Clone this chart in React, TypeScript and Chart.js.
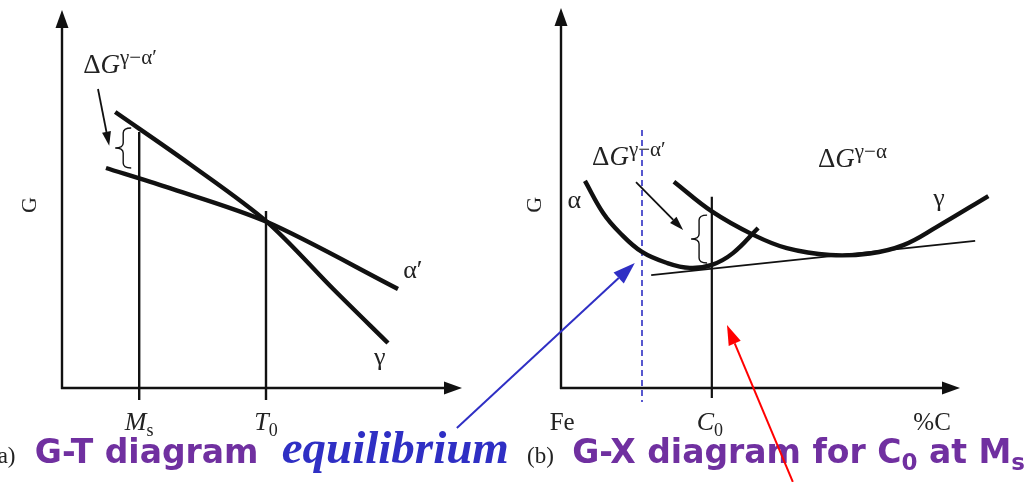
import { useEffect, useRef } from "react";
import { Chart, registerables } from "chart.js";

Chart.register(...registerables);

const CANVAS_W = 1029;
const CANVAS_H = 482;

// ---------- Panel (a): G–T diagram (arbitrary units, 0..10 on both axes) ----------
const gammaT = [1.33, 3.2, 5.13, 6.78, 8.15];
const gammaGT = [7.3, 5.92, 4.39, 2.62, 1.19];
const alphaPrimeT = [1.1, 2.6, 5.13, 8.4];
const alphaPrimeGT = [5.82, 5.32, 4.39, 2.62];
const msT = 1.93;
const t0T = 5.1;
const msLine = [6.77, -0.32];
const t0Line = [4.68, -0.32];

// ---------- Panel (b): G–X diagram for C0 at Ms ----------
const alphaX = [0.6, 1.06, 1.48, 2.03, 2.66, 3.23, 3.78, 4.31, 4.94];
const alphaGX = [5.45, 4.6, 4.08, 3.58, 3.29, 3.16, 3.24, 3.55, 4.21];
const gammaX = [2.83, 3.79, 4.82, 5.66, 6.74, 7.74, 8.58, 9.42, 10.71];
const gammaGX = [5.43, 4.64, 4.03, 3.68, 3.5, 3.54, 3.76, 4.24, 5.05];
const tangentX = [2.26, 10.38];
const tangentG = [2.97, 3.87];
const c0X = 3.78;
const c0Line = [5.03, -0.26];
const eqX = 2.03;
const eqLine = [6.79, -0.37];

const SERIF = '"Liberation Serif", "DejaVu Serif", serif';
const SANS = '"DejaVu Sans", "Noto Sans", sans-serif';
const PURPLE = "#7030a0";
const BLUE = "#2f2fc4";
const INK = "#222";

const pts = (xs: number[], ys: number[]) => xs.map((x, i) => ({ x, y: ys[i] }));

type Run = { t: string; font: string; dy?: number };

function drawRuns(ctx: CanvasRenderingContext2D, runs: Run[], x: number, y: number, color: string) {
  ctx.fillStyle = color;
  ctx.textAlign = "left";
  ctx.textBaseline = "alphabetic";
  let cx = x;
  for (const r of runs) {
    ctx.font = r.font;
    ctx.fillText(r.t, cx, y + (r.dy || 0));
    cx += ctx.measureText(r.t).width;
  }
}

function runsWidth(ctx: CanvasRenderingContext2D, runs: Run[]) {
  let w = 0;
  for (const r of runs) {
    ctx.font = r.font;
    w += ctx.measureText(r.t).width;
  }
  return w;
}

function arrow(
  ctx: CanvasRenderingContext2D,
  x0: number, y0: number, x1: number, y1: number,
  color: string, width: number, headLen: number, headHalf: number
) {
  const a = Math.atan2(y1 - y0, x1 - x0);
  const bx = x1 - headLen * Math.cos(a);
  const by = y1 - headLen * Math.sin(a);
  ctx.strokeStyle = color;
  ctx.lineWidth = width;
  ctx.lineCap = "butt";
  ctx.beginPath();
  ctx.moveTo(x0, y0);
  ctx.lineTo(bx, by);
  ctx.stroke();
  ctx.fillStyle = color;
  ctx.beginPath();
  ctx.moveTo(x1, y1);
  ctx.lineTo(bx - headHalf * Math.sin(a), by + headHalf * Math.cos(a));
  ctx.lineTo(bx + headHalf * Math.sin(a), by - headHalf * Math.cos(a));
  ctx.closePath();
  ctx.fill();
}

// Left-pointing curly brace between yTop and yBot (pixels), tip at xTip
function brace(ctx: CanvasRenderingContext2D, xTip: number, yTop: number, yBot: number, w: number) {
  const xm = xTip + w * 0.5;
  const xe = xTip + w;
  const ym = (yTop + yBot) / 2;
  const r = Math.min(5, (yBot - yTop) / 6);
  ctx.strokeStyle = "#111";
  ctx.lineWidth = 1.4;
  ctx.beginPath();
  ctx.moveTo(xe, yTop);
  ctx.quadraticCurveTo(xm, yTop, xm, yTop + r);
  ctx.lineTo(xm, ym - r);
  ctx.quadraticCurveTo(xm, ym, xTip, ym);
  ctx.quadraticCurveTo(xm, ym, xm, ym + r);
  ctx.lineTo(xm, yBot - r);
  ctx.quadraticCurveTo(xm, yBot, xe, yBot);
  ctx.stroke();
}

function axesWithArrows(chart: Chart) {
  const ctx = chart.ctx;
  const sx = chart.scales.x;
  const sy = chart.scales.y;
  const ox = sx.getPixelForValue(0);
  const oy = sy.getPixelForValue(0);
  const tx = sx.getPixelForValue(10);
  const ty = sy.getPixelForValue(10);
  arrow(ctx, ox, oy + 1, ox, ty, "#111", 2.4, 18, 6.5);
  arrow(ctx, ox - 1, oy, tx, oy, "#111", 2.4, 18, 6.5);
}

function rotatedTitle(ctx: CanvasRenderingContext2D, text: string, x: number, y: number) {
  ctx.save();
  ctx.translate(x, y);
  ctx.rotate(-Math.PI / 2);
  ctx.font = `22px ${SERIF}`;
  ctx.fillStyle = INK;
  ctx.textAlign = "center";
  ctx.textBaseline = "middle";
  ctx.fillText(text, 0, 0);
  ctx.restore();
}

function makeChart(
  canvas: HTMLCanvasElement,
  datasets: any[],
  padding: { left: number; right: number; top: number; bottom: number },
  drawText: (c: Chart) => void,
  drawMarks: (c: Chart) => void
) {
  return new Chart(canvas, {
    type: "line",
    data: { datasets },
    options: {
      animation: false,
      responsive: false,
      devicePixelRatio: 1,
      events: [],
      layout: { padding },
      plugins: { legend: { display: false }, tooltip: { enabled: false } },
      elements: { point: { radius: 0 } },
      scales: {
        x: { type: "linear", display: false, min: 0, max: 10 },
        y: { type: "linear", display: false, min: 0, max: 10 },
      },
    },
    plugins: [
      {
        id: "diagramText",
        beforeDatasetsDraw(c: Chart) {
          c.ctx.save();
          drawText(c);
          c.ctx.restore();
        },
      },
      {
        id: "diagramMarks",
        afterDatasetsDraw(c: Chart) {
          c.ctx.save();
          axesWithArrows(c);
          drawMarks(c);
          c.ctx.restore();
        },
      },
    ],
  });
}

const curve = (data: any[], width: number, tension = 0.4, color = "#111") => ({
  data,
  borderColor: color,
  borderWidth: width,
  tension,
  fill: false,
  clip: false,
  borderCapStyle: "butt",
});

const deltaLabel = (sup: string): Run[] => [
  { t: "Δ", font: `27px ${SERIF}` },
  { t: "G", font: `italic 27px ${SERIF}` },
  { t: sup, font: `21px ${SERIF}`, dy: -9 },
];

const CAPTION = `bold 33px ${SANS}`;
const CAPTION_SUB = `bold 23px ${SANS}`;

export default function App() {
  const leftRef = useRef<HTMLCanvasElement | null>(null);
  const rightRef = useRef<HTMLCanvasElement | null>(null);

  useEffect(() => {
    document.body.style.margin = "0";
    const left = leftRef.current!;
    const right = rightRef.current!;

    // ----- Panel (a) -----
    const leftChart = makeChart(
      left,
      [
        curve(pts(gammaT, gammaGT), 4.4, 0.3),
        curve(pts(alphaPrimeT, alphaPrimeGT), 4.4, 0.3),
        curve(pts([msT, msT], msLine), 2.4, 0),
        curve(pts([t0T, t0T], t0Line), 2.4, 0),
      ],
      { left: 62, right: CANVAS_W - 462, top: 10, bottom: CANVAS_H - 388 },
      (c) => {
        const ctx = c.ctx;
        const X = (v: number) => c.scales.x.getPixelForValue(v);
        const Y = (v: number) => c.scales.y.getPixelForValue(v);
        drawRuns(ctx, deltaLabel("γ−α′"), X(0.53), Y(8.33), INK);
        drawRuns(ctx, [{ t: "α′", font: `26px ${SERIF}` }], X(8.53), Y(2.91), INK);
        drawRuns(ctx, [{ t: "γ", font: `26px ${SERIF}` }], X(7.8), Y(0.6), INK);
        rotatedTitle(ctx, "G", X(-0.8), Y(4.84));
        const ms: Run[] = [
          { t: "M", font: `italic 26px ${SERIF}` },
          { t: "s", font: `18px ${SERIF}`, dy: 6 },
        ];
        drawRuns(ctx, ms, X(msT) - runsWidth(ctx, ms) / 2, Y(-1.11), INK);
        const t0: Run[] = [
          { t: "T", font: `italic 26px ${SERIF}` },
          { t: "0", font: `18px ${SERIF}`, dy: 6 },
        ];
        drawRuns(ctx, t0, X(t0T) - runsWidth(ctx, t0) / 2, Y(-1.11), INK);
        drawRuns(ctx, [{ t: "(a)", font: `23px ${SERIF}` }], X(-1.8), Y(-1.98), INK);
        drawRuns(ctx, [{ t: "G-T diagram", font: CAPTION }], X(-0.68), Y(-1.98), PURPLE);
      },
      (c) => {
        const ctx = c.ctx;
        const X = (v: number) => c.scales.x.getPixelForValue(v);
        const Y = (v: number) => c.scales.y.getPixelForValue(v);
        arrow(ctx, X(0.9), Y(7.91), X(1.18), Y(6.41), "#111", 1.8, 14, 4.5);
        brace(ctx, X(1.33), Y(6.88), Y(5.82), 16);
      }
    );

    // ----- Panel (b) -----
    const rightChart = makeChart(
      right,
      [
        curve(pts(alphaX, alphaGX), 4.4, 0.4),
        curve(pts(gammaX, gammaGX), 4.4, 0.4),
        curve(pts(tangentX, tangentG), 1.8, 0),
        curve(pts([c0X, c0X], c0Line), 2.2, 0),
        { ...curve(pts([eqX, eqX], eqLine), 1.6, 0, BLUE), borderDash: [6, 4] },
      ],
      { left: 561, right: CANVAS_W - 960, top: 8, bottom: CANVAS_H - 388 },
      (c) => {
        const ctx = c.ctx;
        const X = (v: number) => c.scales.x.getPixelForValue(v);
        const Y = (v: number) => c.scales.y.getPixelForValue(v);
        drawRuns(ctx, deltaLabel("γ−α′"), X(0.78), Y(5.87), INK);
        drawRuns(ctx, deltaLabel("γ−α"), X(6.44), Y(5.82), INK);
        drawRuns(ctx, [{ t: "α", font: `26px ${SERIF}` }], X(0.16), Y(4.74), INK);
        drawRuns(ctx, [{ t: "γ", font: `26px ${SERIF}` }], X(9.33), Y(4.8), INK);
        rotatedTitle(ctx, "G", X(-0.65), Y(4.82));
        const fe: Run[] = [{ t: "Fe", font: `25px ${SERIF}` }];
        drawRuns(ctx, fe, X(0.03) - runsWidth(ctx, fe) / 2, Y(-1.1), INK);
        const c0: Run[] = [
          { t: "C", font: `italic 26px ${SERIF}` },
          { t: "0", font: `18px ${SERIF}`, dy: 6 },
        ];
        drawRuns(ctx, c0, X(3.73) - runsWidth(ctx, c0) / 2, Y(-1.1), INK);
        const pc: Run[] = [{ t: "%C", font: `25px ${SERIF}` }];
        drawRuns(ctx, pc, X(9.3) - runsWidth(ctx, pc) / 2, Y(-1.1), INK);
        drawRuns(ctx, [{ t: "(b)", font: `23px ${SERIF}` }], X(-0.85), Y(-1.97), INK);
        drawRuns(ctx, [
          { t: "G-X diagram for C", font: CAPTION },
          { t: "0", font: CAPTION_SUB, dy: 7 },
          { t: " at M", font: CAPTION },
          { t: "s", font: CAPTION_SUB, dy: 7 },
        ], X(0.28), Y(-1.97), PURPLE);
        drawRuns(ctx, [{ t: "equilibrium", font: `italic bold 47px ${SERIF}` }], X(-7.0), Y(-1.97), BLUE);
      },
      (c) => {
        const ctx = c.ctx;
        const X = (v: number) => c.scales.x.getPixelForValue(v);
        const Y = (v: number) => c.scales.y.getPixelForValue(v);
        arrow(ctx, X(1.88), Y(5.42), X(3.06), Y(4.16), "#111", 1.8, 14, 4.5);
        brace(ctx, X(3.26), Y(4.55), Y(3.29), 16);
        arrow(ctx, X(-2.61), Y(-1.05), X(1.85), Y(3.29), BLUE, 2, 22, 7.5);
        arrow(ctx, X(5.81), Y(-2.47), X(4.16), Y(1.66), "#ff0000", 2, 20, 6.5);
      }
    );

    return () => {
      leftChart.destroy();
      rightChart.destroy();
    };
  }, []);

  const layer: React.CSSProperties = { position: "absolute", left: 0, top: 0 };
  return (
    <div style={{ position: "fixed", left: 0, top: 0, width: CANVAS_W, height: CANVAS_H, background: "#fff" }}>
      <canvas ref={leftRef} width={CANVAS_W} height={CANVAS_H} style={layer} />
      <canvas ref={rightRef} width={CANVAS_W} height={CANVAS_H} style={layer} />
    </div>
  );
}
